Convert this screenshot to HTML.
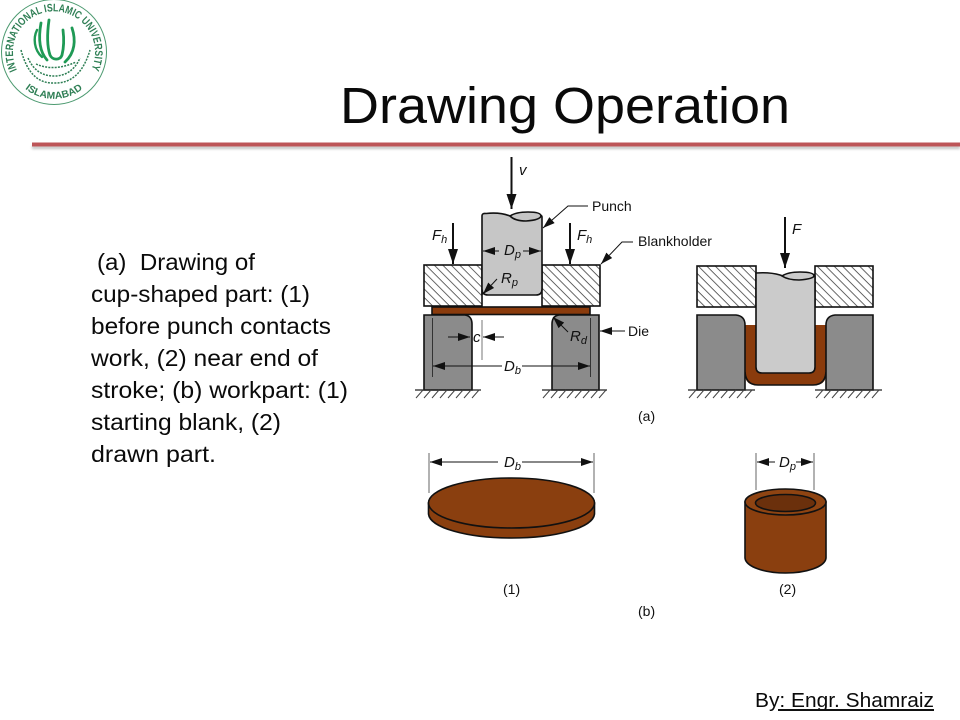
<!DOCTYPE html>
<html><head><meta charset="utf-8"><style>
html,body{margin:0;padding:0;background:#fff}
svg{display:block}
.t{font-family:"Liberation Sans",sans-serif;fill:#0a0a0a}
.b{font-size:23px}
.l{font-family:"Liberation Sans",sans-serif;font-size:14px;fill:#111}
.i{font-style:italic;font-size:15px}
.s{font-style:italic;font-size:11px}
</style></head><body>
<svg width="960" height="720" viewBox="0 0 960 720" xmlns="http://www.w3.org/2000/svg">
<defs>
<pattern id="h" width="6" height="6" patternUnits="userSpaceOnUse" patternTransform="rotate(45)"><rect width="6" height="6" fill="#fff"/><line x1="0" y1="0" x2="6" y2="0" stroke="#333" stroke-width="1.5"/></pattern>
<marker id="a" markerWidth="13" markerHeight="8" refX="12" refY="4" orient="auto-start-reverse" markerUnits="userSpaceOnUse"><path d="M0 0L12 4L0 8Z" fill="#111"/></marker>
<marker id="big" markerWidth="16" markerHeight="10" refX="15" refY="5" orient="auto" markerUnits="userSpaceOnUse"><path d="M0 0L15 5L0 10Z" fill="#111"/></marker>
<path id="ringTop" d="M17 70A41 41 0 1 1 91 70"/>
<path id="ringBot" d="M18 82A47 47 0 0 0 90 82"/>
<filter id="sh" x="-2%" y="-200%" width="104%" height="500%"><feGaussianBlur stdDeviation="1.2"/></filter>
</defs>
<rect width="960" height="720" fill="#fff"/>

<!-- logo -->
<circle cx="54" cy="52" r="52.500" fill="#fff" stroke="#4c9a70" stroke-width="1"/>
<text font-family="Liberation Sans,sans-serif" font-size="11" font-weight="bold" fill="#2f7f55"><textPath href="#ringTop" startOffset="0" textLength="164" lengthAdjust="spacingAndGlyphs">INTERNATIONAL ISLAMIC UNIVERSITY</textPath></text>
<text font-family="Liberation Sans,sans-serif" font-size="10" font-weight="bold" fill="#2f7f55"><textPath href="#ringBot" startOffset="12%" textLength="62" lengthAdjust="spacingAndGlyphs">ISLAMABAD</textPath></text>
<g fill="none" stroke="#1f9a55" stroke-linecap="round">
<path d="M49 20C47 34 47 46 50 55C52 60 60 61 62 55C64 47 64 38 63 30" stroke-width="2.800"/>
<path d="M41 23C39 34 38 50 47 60" stroke-width="2.800"/>
<path d="M37 30C33 38 34 50 42 57" stroke-width="2.400"/>
<path d="M72 28C76 40 75 53 65 62" stroke-width="2.800"/>
</g>
<g fill="none" stroke="#2f7f55" stroke-width="1.500" stroke-dasharray="2 1.200">
<path d="M21 50Q30 84 54 83Q80 84 90 50"/><path d="M28 58Q36 76 54 76Q72 76 80 58"/><path d="M36 64Q54 72 76 62"/>
</g>

<!-- title -->
<text class="t" x="340" y="123" font-size="51" textLength="450" lengthAdjust="spacingAndGlyphs">Drawing Operation</text>
<rect x="32" y="146" width="928" height="3" fill="#999" opacity=".6" filter="url(#sh)"/>
<rect x="32" y="142.500" width="928" height="4" fill="#bd5558"/>

<!-- body -->
<g class="t b">
<text x="97" y="270" textLength="158" lengthAdjust="spacingAndGlyphs" xml:space="preserve">(a)  Drawing of</text>
<text x="91" y="302" textLength="219" lengthAdjust="spacingAndGlyphs">cup-shaped part: (1)</text>
<text x="91" y="334" textLength="240" lengthAdjust="spacingAndGlyphs">before punch contacts</text>
<text x="91" y="366" textLength="227" lengthAdjust="spacingAndGlyphs">work, (2) near end of</text>
<text x="91" y="398" textLength="257" lengthAdjust="spacingAndGlyphs">stroke; (b) workpart: (1)</text>
<text x="91" y="430" textLength="190" lengthAdjust="spacingAndGlyphs">starting blank, (2)</text>
<text x="91" y="462" textLength="125" lengthAdjust="spacingAndGlyphs">drawn part.</text>
</g>

<!-- footer -->
<text class="t" x="755" y="707" font-size="20" textLength="179" lengthAdjust="spacingAndGlyphs">By: Engr. Shamraiz</text>
<rect x="778" y="709" width="156" height="2" fill="#111"/>

<!-- diagram a1 -->
<g stroke="#111" stroke-width="1.600">
<rect x="424" y="265" width="58" height="41" fill="url(#h)"/>
<rect x="542" y="265" width="58" height="41" fill="url(#h)"/>
<path d="M482 295V216Q482 213 486 213.500Q500 212 510 216Q520 219 534 215Q542 214 542 217V289Q542 295 536 295H488Q482 295 482 289Z" fill="#c6c6c6"/>
<path d="M510 216Q516 212 528 212Q541 212 541 216Q540 220 526 221Q515 221 510 216Z" fill="#c6c6c6"/>
<rect x="432" y="307" width="158" height="7.500" fill="#8a3b0c"/>
<path d="M424 315H465Q472 316 472 324V390H424Z" fill="#8b8b8b"/>
<path d="M599 315H559Q552 316 552 324V390H599Z" fill="#8b8b8b"/>
</g>
<g stroke="#333" stroke-width="1"><line x1="432.500" y1="318" x2="432.500" y2="377"/><line x1="590.500" y1="318" x2="590.500" y2="377"/><line x1="482" y1="320" x2="482" y2="360" stroke="#777"/></g>

<!-- diagram a2 -->
<g stroke="#111" stroke-width="1.600">
<rect x="697" y="266" width="59" height="41" fill="url(#h)"/>
<rect x="815" y="266" width="58" height="41" fill="url(#h)"/>
<path d="M745 325H826V374Q826 385 815 385H756Q745 385 745 374Z" fill="#8a3b0c" stroke="none"/>
<path d="M745 372Q746 385 758 385H813Q825 385 826 372" fill="none"/>
<path d="M756 273Q770 272 780 275Q790 279 802 274Q815 273 815 276V367Q815 373 809 373H762Q756 373 756 367Z" fill="#cbcbcb"/>
<path d="M782 276Q788 272 800 272Q814 272 814 276Q813 279 799 280Q788 280 782 276Z" fill="#cbcbcb"/>
<path d="M697 315H736Q745 316 745 325V390H697Z" fill="#8b8b8b"/>
<path d="M873 315H835Q826 316 826 325V390H873Z" fill="#8b8b8b"/>
</g>

<!-- ground hatch -->
<g stroke="#222" stroke-width="1.300">
<line x1="415" y1="390" x2="481" y2="390"/><line x1="542" y1="390" x2="607" y2="390"/>
<line x1="688" y1="390" x2="755" y2="390"/><line x1="815" y1="390" x2="882" y2="390"/>
</g>
<g stroke="#444" stroke-width="1">
<path d="M423 390l-7 8M431 390l-7 8M439 390l-7 8M447 390l-7 8M455 390l-7 8M463 390l-7 8M471 390l-7 8M479 390l-7 8"/>
<path d="M550 390l-7 8M558 390l-7 8M566 390l-7 8M574 390l-7 8M582 390l-7 8M590 390l-7 8M598 390l-7 8M606 390l-7 8"/>
<path d="M696 390l-7 8M704 390l-7 8M712 390l-7 8M720 390l-7 8M728 390l-7 8M736 390l-7 8M744 390l-7 8M752 390l-7 8"/>
<path d="M823 390l-7 8M831 390l-7 8M839 390l-7 8M847 390l-7 8M855 390l-7 8M863 390l-7 8M871 390l-7 8M879 390l-7 8"/>
</g>

<!-- force arrows -->
<g stroke="#111" stroke-width="2" fill="none">
<line x1="511.500" y1="157" x2="511.500" y2="209" marker-end="url(#big)"/>
<line x1="453" y1="223" x2="453" y2="264" marker-end="url(#big)"/>
<line x1="570" y1="223" x2="570" y2="264" marker-end="url(#big)"/>
<line x1="785" y1="217" x2="785" y2="268" marker-end="url(#big)"/>
</g>

<!-- leaders / dimensions -->
<g stroke="#111" stroke-width="1" fill="none">
<path d="M588 206H568L543 228" marker-end="url(#a)"/>
<path d="M633 242H622L601 264" marker-end="url(#a)"/>
<path d="M625 331H600" marker-end="url(#a)"/>
<path d="M568 332L553 317" marker-end="url(#a)"/>
<path d="M497 279L483 294" marker-end="url(#a)"/>
<line x1="483" y1="251" x2="499" y2="251" marker-start="url(#a)"/>
<line x1="523" y1="251" x2="541" y2="251" marker-end="url(#a)"/>
<line x1="448" y1="337" x2="470" y2="337" marker-end="url(#a)"/>
<line x1="504" y1="337" x2="483" y2="337" marker-end="url(#a)"/>
<line x1="433" y1="366" x2="502" y2="366" marker-start="url(#a)"/>
<line x1="522" y1="366" x2="590" y2="366" marker-end="url(#a)"/>
<line x1="430" y1="462" x2="498" y2="462" marker-start="url(#a)"/>
<line x1="522" y1="462" x2="593" y2="462" marker-end="url(#a)"/>
<line x1="757" y1="462" x2="775" y2="462" marker-start="url(#a)"/>
<line x1="796" y1="462" x2="813" y2="462" marker-end="url(#a)"/>
</g>
<g stroke="#666" stroke-width="1">
<line x1="429" y1="453" x2="429" y2="493"/><line x1="594" y1="453" x2="594" y2="493"/>
<line x1="756" y1="453" x2="756" y2="490"/><line x1="814" y1="453" x2="814" y2="490"/>
</g>

<!-- disc -->
<path d="M428.500 503V514C430 528 468 538 511.500 538C555 538 593 528 594.500 514V503Z" fill="#8a3f0f" stroke="#111" stroke-width="1.600"/>
<ellipse cx="511.500" cy="503" rx="83" ry="25" fill="#8a3f0f" stroke="#111" stroke-width="1.600"/>

<!-- cup -->
<path d="M745 502V558C746 567 765 573 785.500 573C806 573 825 567 826 558V502Z" fill="#8a3f0f" stroke="#111" stroke-width="1.600"/>
<ellipse cx="785.500" cy="502" rx="40.500" ry="13" fill="#8f4412" stroke="#111" stroke-width="1.600"/>
<ellipse cx="785.500" cy="503" rx="30" ry="8.500" fill="#6b300c" stroke="#111" stroke-width="1.600"/>

<!-- labels -->
<g class="l">
<text x="519" y="175" class="i">v</text>
<text x="592" y="211">Punch</text>
<text x="638" y="246">Blankholder</text>
<text x="628" y="336">Die</text>
<text x="432" y="240" class="i">F<tspan class="s" dy="3">h</tspan></text>
<text x="577" y="240" class="i">F<tspan class="s" dy="3">h</tspan></text>
<text x="792" y="234" class="i">F</text>
<text x="504" y="255" class="i">D<tspan class="s" dy="3">p</tspan></text>
<text x="501" y="283" class="i">R<tspan class="s" dy="3">p</tspan></text>
<text x="570" y="341" class="i">R<tspan class="s" dy="3">d</tspan></text>
<text x="473" y="342" class="i">c</text>
<text x="504" y="371" class="i">D<tspan class="s" dy="3">b</tspan></text>
<text x="504" y="467" class="i">D<tspan class="s" dy="3">b</tspan></text>
<text x="779" y="467" class="i">D<tspan class="s" dy="3">p</tspan></text>
<text x="638" y="421">(a)</text>
<text x="638" y="616">(b)</text>
<text x="503" y="594">(1)</text>
<text x="779" y="594">(2)</text>
</g>
</svg>
</body></html>
